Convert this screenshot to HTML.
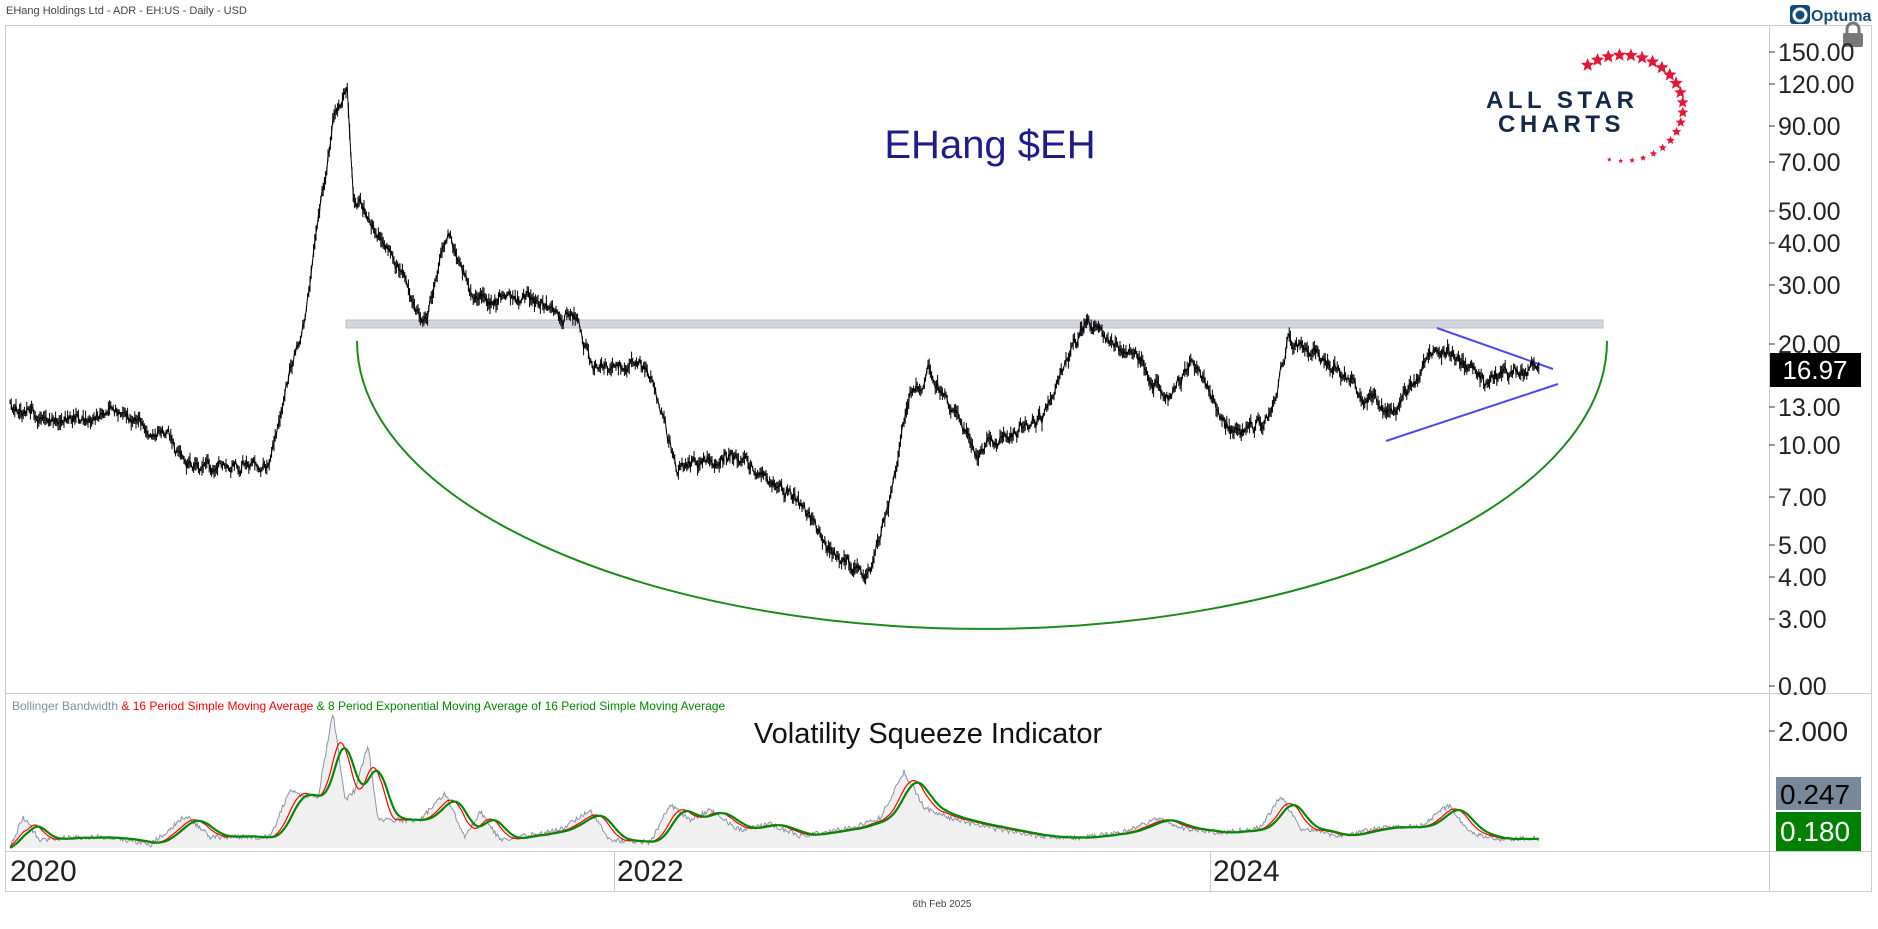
<!DOCTYPE html>
<html><head><meta charset="utf-8"><style>
body{margin:0;background:#fff;width:1878px;height:924px;overflow:hidden;font-family:"Liberation Sans","DejaVu Sans",sans-serif}
</style></head><body>
<svg id="s" width="1878" height="924" xmlns="http://www.w3.org/2000/svg" font-family="Liberation Sans, DejaVu Sans, sans-serif">
<rect width="1878" height="924" fill="#fff"/>
<text x="6" y="14" font-size="11" fill="#444">EHang Holdings Ltd - ADR - EH:US - Daily - USD</text>
<rect x="1790" y="5" width="20" height="19" rx="3" fill="#0f4b7d"/>
<circle cx="1800" cy="15" r="6" fill="none" stroke="#fff" stroke-width="3"/>
<text x="1811" y="21" font-size="16" font-weight="bold" fill="#0f4b7d">Optuma</text>
<rect x="5.5" y="25.5" width="1866" height="866" fill="none" stroke="#ccc"/>
<line x1="1769.5" y1="25" x2="1769.5" y2="891" stroke="#ccc"/>
<line x1="5" y1="693.5" x2="1871" y2="693.5" stroke="#ccc"/>
<line x1="5" y1="851.5" x2="1871" y2="851.5" stroke="#ccc"/>
<line x1="614.5" y1="851" x2="614.5" y2="891" stroke="#ccc"/>
<line x1="1210.5" y1="851" x2="1210.5" y2="891" stroke="#ccc"/>
<rect x="1843" y="33" width="20" height="14" rx="2" fill="#777"/>
<path d="M1847 33 v-4 a6 6 0 0 1 12 0 v4" fill="none" stroke="#777" stroke-width="3"/>
<g id="pax" font-size="25" fill="#222"></g>
<text x="1486" y="108" font-size="24" font-weight="bold" fill="#13294b" letter-spacing="4.5">ALL STAR</text>
<text x="1498" y="132" font-size="24" font-weight="bold" fill="#13294b" letter-spacing="4.5">CHARTS</text>
<g id="stars" fill="#e31837"></g>
<text x="990" y="158" font-size="40" fill="#1c1c8a" text-anchor="middle">EHang $EH</text>
<rect x="346" y="320" width="1257" height="8" fill="#d3d7dc" stroke="#b8bec6" stroke-width="1"/>
<path d="M357 341 A625 288 0 0 0 1607 341" fill="none" stroke="#1a8a1a" stroke-width="2"/>
<line x1="1437" y1="328" x2="1553" y2="369" stroke="#4a4af0" stroke-width="2"/>
<line x1="1386" y1="441" x2="1558" y2="384" stroke="#4a4af0" stroke-width="2"/>
<g id="price"></g>
<rect x="1770" y="353" width="91" height="34" fill="#000"/>
<text x="1815" y="379" font-size="26" fill="#fff" text-anchor="middle">16.97</text>
<text x="12" y="710" font-size="12"><tspan fill="#8090a0">Bollinger Bandwidth </tspan><tspan fill="#f00">&amp; 16 Period Simple Moving Average </tspan><tspan fill="#080">&amp; 8 Period Exponential Moving Average of 16 Period Simple Moving Average</tspan></text>
<text x="928" y="743" font-size="29" fill="#111" text-anchor="middle">Volatility Squeeze Indicator</text>
<g id="ind"></g>
<line x1="1769" y1="731" x2="1775" y2="731" stroke="#333"/>
<text x="1778" y="741" font-size="28" fill="#222">2.000</text>
<rect x="1776" y="777" width="85" height="33" fill="#778899"/>
<text x="1780" y="804" font-size="28" fill="#000">0.247</text>
<rect x="1776" y="812" width="85" height="39" fill="#008000"/>
<text x="1780" y="841" font-size="28" fill="#fff">0.180</text>
<text x="10" y="881" font-size="30" fill="#222">2020</text>
<text x="617" y="881" font-size="30" fill="#222">2022</text>
<text x="1213" y="881" font-size="30" fill="#222">2024</text>
<text x="942" y="907" font-size="10" fill="#444" text-anchor="middle">6th Feb 2025</text>
</svg>
<script>
var NS="http://www.w3.org/2000/svg";
function el(t,a,p){var e=document.createElementNS(NS,t);for(var k in a)e.setAttribute(k,a[k]);p.appendChild(e);return e;}
var seed=12345;function rnd(){seed=(seed*1664525+1013904223)%4294967296;return seed/4294967296;}
var pax=document.getElementById('pax');
[[150,52],[120,84],[90,126],[70,162],[50,211],[40,243],[30,285],[20,344],[13,407],[10,445],[7,497],[5,545],[4,577],[3,619],[0,686]].forEach(function(p){
 el('line',{x1:1769,y1:p[1],x2:1775,y2:p[1],stroke:'#333'},pax);
 var t=el('text',{x:1778,y:p[1]+9},pax);t.textContent=p[0].toFixed(2);
});
var st=document.getElementById('stars');
for(var i=0;i<22;i++){
 var ang=-2.2+i*(4.0/21);var cx=1623+60*Math.cos(ang),cy=108+53*Math.sin(ang);
 var s=i<10?7:Math.max(2.5,7-(i-9)*0.4);
 var d='';for(var k=0;k<10;k++){var rr=k%2?s*0.45:s;var aa=-Math.PI/2+k*Math.PI/5;d+=(k?'L':'M')+(cx+rr*Math.cos(aa)).toFixed(1)+' '+(cy+rr*Math.sin(aa)).toFixed(1);}
 el('path',{d:d+'Z'},st);}
function interp(w,x){for(var i=1;i<w.length;i++){if(x<=w[i][0]){var a=w[i-1],b=w[i];return a[1]+(b[1]-a[1])*(x-a[0])/(b[0]-a[0]);}}return w[w.length-1][1];}
var W=[[10,407],[48,419],[108,413],[168,431],[186,467],[240,461],[270,461],[287,383],[305,311],[323,192],[335,108],[347,84],[353,192],[383,240],[425,323],[449,234],[473,299],[527,299],[575,317],[593,371],[647,365],[677,467],[731,455],[790,491],[838,563],[868,575],[892,491],[910,395],[928,371],[976,449],[1042,419],[1084,329],[1138,359],[1168,395],[1192,359],[1234,437],[1270,419],[1288,341],[1323,359],[1371,401],[1395,419],[1437,341],[1485,383],[1533,371],[1539,368]];
var pg=document.getElementById('price');var d='',n=0,pts='';
for(var x=10;x<=1539;x+=1.2){n=0.7*n+(rnd()-0.5)*11;var y=interp(W,x)+n;if(x>1536)y=368;
 var h=2+rnd()*6;d+='M'+x.toFixed(1)+' '+(y-h).toFixed(1)+'V'+(y+h).toFixed(1);pts+=x.toFixed(1)+','+y.toFixed(1)+' ';}
el('path',{d:d,stroke:'#000','stroke-width':1},pg);
el('polyline',{points:pts,fill:'none',stroke:'#000','stroke-width':1},pg);
var H=[[10,0],[23,31],[40,8],[60,10],[100,11],[130,8],[150,3],[186,33],[210,11],[270,11],[290,58],[300,53],[318,51],[333,136],[345,48],[355,58],[368,103],[378,28],[400,28],[420,28],[445,55],[465,10],[480,37],[500,8],[560,18],[590,38],[610,8],[650,6],[670,43],[690,28],[710,38],[740,18],[770,24],[800,12],[850,20],[880,30],[904,76],[925,40],[950,30],[990,20],[1040,12],[1080,10],[1120,15],[1160,30],[1180,20],[1220,15],[1260,20],[1281,52],[1300,20],[1340,12],[1380,20],[1420,22],[1449,43],[1470,15],[1500,8],[1540,10]];
var ig=document.getElementById('ind');var xs=[],g=[];
for(var x=10;x<=1540;x+=1.2){xs.push(x);g.push(Math.max(0,interp(H,x)+(rnd()-0.5)*5));}
var sma=[],ema=[],e=0;
for(var i=0;i<g.length;i++){var s=0,c=0;for(var j=Math.max(0,i-15);j<=i;j++){s+=g[j];c++;}sma.push(s/c);e=i?e+(sma[i]-e)*2/9:sma[i];ema.push(e);}
function line(arr){var p='';for(var i=0;i<arr.length;i++)p+=(i?'L':'M')+xs[i].toFixed(1)+' '+(848-arr[i]).toFixed(1);return p;}
el('path',{d:line(g)+'L1540 848L10 848Z',fill:'#f0f0f0'},ig);
el('path',{d:line(g),fill:'none',stroke:'#8a94a4','stroke-width':1},ig);
el('path',{d:line(sma),fill:'none',stroke:'#f00','stroke-width':1.2},ig);
el('path',{d:line(ema),fill:'none',stroke:'#080','stroke-width':2.2},ig);
</script>
</body></html>
